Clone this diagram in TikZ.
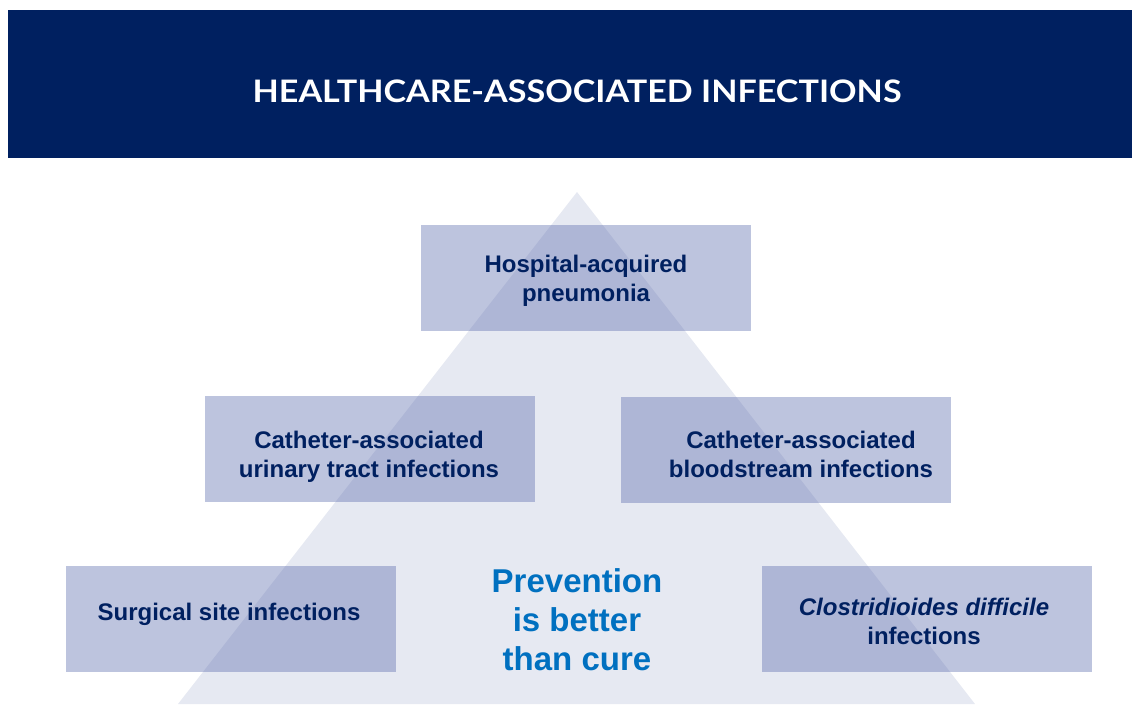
\documentclass[tikz,border=0pt]{standalone}
\usepackage{fontspec}
\setmainfont{Liberation Sans}
\newfontfamily\titlefont[FakeStretch=1.1]{Lato}
\usepackage{xcolor}
\usetikzlibrary{positioning}
\definecolor{navy}{RGB}{0,32,96}
\definecolor{pyramid}{RGB}{230,233,242}
\definecolor{tilefill}{RGB}{90,107,172}
\definecolor{cureblue}{RGB}{0,112,192}

\begin{document}
\begin{tikzpicture}[x=1pt,y=-1pt,
  tile/.style={fill=tilefill,fill opacity=0.4,text opacity=1,minimum width=330pt,minimum height=106pt,inner sep=0pt},
  tiletext/.style={align=center,text=navy,font=\bfseries\fontsize{24}{29}\selectfont,inner sep=0pt}]
\useasboundingbox (0,0) rectangle (1132,704);
% banner
\fill[navy] (8,10) rectangle (1132,158);
\node[text=white,font=\titlefont\bfseries\fontsize{31}{36}\selectfont] (title) at (577,91) {HEALTHCARE-ASSOCIATED INFECTIONS};
% pyramid
\fill[pyramid] (577,192)--(975,704)--(178,704)--cycle;
% tiles
\node[tile] (hap) at (586,278) {};
\node[tile] (cauti) at (370,449) {};
\node[tile] (crbsi) at (786,450) {};
\node[tile] (ssi) at (231,619) {};
\node[tile] (cdi) at (927,619) {};
\node[tiletext] (haptext) at ([yshift=-3pt]hap) {Hospital-acquired\\pneumonia};
\node[tiletext] (cautitext) at ([xshift=-1pt,yshift=-8pt]cauti) {Catheter-associated\\urinary tract infections};
\node[tiletext] (crbsitext) at ([xshift=15pt,yshift=-4pt]crbsi) {Catheter-associated\\bloodstream infections};
\node[tiletext] (ssitext) at ([xshift=-2pt,yshift=5pt]ssi) {Surgical site infections};
\node[tiletext] (cditext) at ([xshift=-3pt,yshift=-2pt]cdi) {\itshape Clostridioides difficile\\infections};
% motto
\node[align=center,text=cureblue,font=\bfseries\fontsize{33}{39}\selectfont] (motto) at (577,620) {Prevention\\is better\\than cure};
\end{tikzpicture}
\end{document}
